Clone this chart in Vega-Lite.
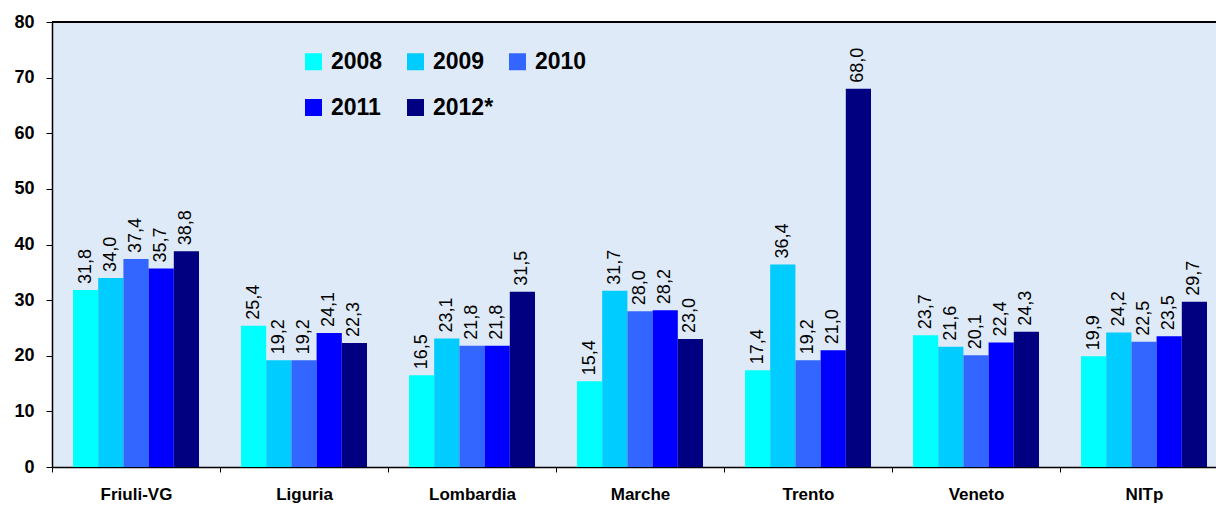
{
  "$schema": "https://vega.github.io/schema/vega-lite/v6.json",
  "autosize": {"type": "none"},
  "padding": {"left": 52, "top": 22, "right": 0, "bottom": 42},
  "width": 1164,
  "height": 445,
  "background": "white",
  "view": {"fill": "#dfeaf8", "stroke": null},
  "config": {
    "font": "Liberation Sans",
    "locale": {"number": {"decimal": ",", "thousands": ".", "grouping": [3], "currency": ["", " €"]}}
  },
  "data": {
    "values": [
      {"region": "Friuli-VG", "year": "2008", "value": 31.8},
      {"region": "Friuli-VG", "year": "2009", "value": 34.0},
      {"region": "Friuli-VG", "year": "2010", "value": 37.4},
      {"region": "Friuli-VG", "year": "2011", "value": 35.7},
      {"region": "Friuli-VG", "year": "2012*", "value": 38.8},
      {"region": "Liguria", "year": "2008", "value": 25.4},
      {"region": "Liguria", "year": "2009", "value": 19.2},
      {"region": "Liguria", "year": "2010", "value": 19.2},
      {"region": "Liguria", "year": "2011", "value": 24.1},
      {"region": "Liguria", "year": "2012*", "value": 22.3},
      {"region": "Lombardia", "year": "2008", "value": 16.5},
      {"region": "Lombardia", "year": "2009", "value": 23.1},
      {"region": "Lombardia", "year": "2010", "value": 21.8},
      {"region": "Lombardia", "year": "2011", "value": 21.8},
      {"region": "Lombardia", "year": "2012*", "value": 31.5},
      {"region": "Marche", "year": "2008", "value": 15.4},
      {"region": "Marche", "year": "2009", "value": 31.7},
      {"region": "Marche", "year": "2010", "value": 28.0},
      {"region": "Marche", "year": "2011", "value": 28.2},
      {"region": "Marche", "year": "2012*", "value": 23.0},
      {"region": "Trento", "year": "2008", "value": 17.4},
      {"region": "Trento", "year": "2009", "value": 36.4},
      {"region": "Trento", "year": "2010", "value": 19.2},
      {"region": "Trento", "year": "2011", "value": 21.0},
      {"region": "Trento", "year": "2012*", "value": 68.0},
      {"region": "Veneto", "year": "2008", "value": 23.7},
      {"region": "Veneto", "year": "2009", "value": 21.6},
      {"region": "Veneto", "year": "2010", "value": 20.1},
      {"region": "Veneto", "year": "2011", "value": 22.4},
      {"region": "Veneto", "year": "2012*", "value": 24.3},
      {"region": "NITp", "year": "2008", "value": 19.9},
      {"region": "NITp", "year": "2009", "value": 24.2},
      {"region": "NITp", "year": "2010", "value": 22.5},
      {"region": "NITp", "year": "2011", "value": 23.5},
      {"region": "NITp", "year": "2012*", "value": 29.7}
    ]
  },
  "encoding": {
    "x": {
      "field": "region", "type": "nominal", "sort": null,
      "scale": {"range": [0, 1176], "paddingInner": 0, "paddingOuter": 0},
      "axis": {
        "title": null, "labelAngle": 0, "labelFontSize": 17, "labelFontWeight": "bold",
        "labelColor": "black", "domainColor": "black", "domainWidth": 1.5,
        "tickColor": "black", "tickSize": 5, "tickBand": "extent", "labelPadding": 14
      }
    },
    "xOffset": {
      "field": "year", "type": "nominal",
      "scale": {"paddingOuter": 0.833, "paddingInner": 0}
    },
    "y": {
      "field": "value", "type": "quantitative",
      "scale": {"domain": [0, 80], "nice": false},
      "axis": {
        "title": null, "values": [0, 10, 20, 30, 40, 50, 60, 70, 80], "grid": false,
        "labelFontSize": 18, "labelFontWeight": "bold", "labelColor": "black",
        "domainColor": "black", "domainWidth": 1.5, "tickColor": "black",
        "tickSize": 6, "labelPadding": 12
      }
    }
  },
  "layer": [
    {
      "mark": {"type": "bar"},
      "encoding": {
        "color": {
          "field": "year", "type": "nominal",
          "scale": {
            "domain": ["2008", "2009", "2010", "2011", "2012*"],
            "range": ["#00ffff", "#00ccff", "#3366ff", "#0000ff", "#000080"]
          },
          "legend": {
            "title": null, "orient": "none", "legendX": 250, "legendY": 28,
            "direction": "horizontal", "columns": 3, "padding": 0,
            "symbolType": "square", "symbolSize": 289, "symbolStrokeWidth": 0,
            "symbolOpacity": 1,
            "labelFontSize": 23, "labelFontWeight": "bold", "labelColor": "black",
            "labelOffset": 6, "columnPadding": 12, "rowPadding": 22, "gridAlign": "all"
          }
        }
      }
    },
    {
      "mark": {"type": "text", "angle": -90, "align": "left", "baseline": "middle", "dx": 6, "fontSize": 18, "color": "black"},
      "encoding": {
        "text": {"field": "value", "type": "quantitative", "format": ".1f"}
      }
    },
    {
      "mark": {"type": "rule", "color": "black", "strokeWidth": 1.5},
      "encoding": {"y": {"datum": 80}, "x": null, "xOffset": null}
    }
  ]
}
